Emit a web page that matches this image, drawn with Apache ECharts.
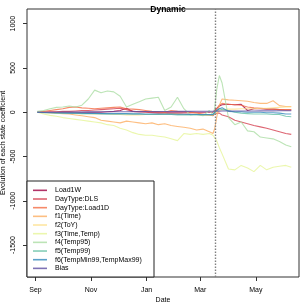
<!DOCTYPE html>
<html>
<head>
<meta charset="utf-8">
<script src="https://cdn.jsdelivr.net/npm/echarts@6/dist/echarts.min.js"></script>
<style>html,body{margin:0;padding:0;background:#fff}#c{width:305px;height:305px}</style>
</head>
<body>
<div id="c"></div>
<script>
var dates = ['2016-09-03','2016-09-10','2016-09-17','2016-09-24','2016-10-01','2016-10-08','2016-10-15','2016-10-22','2016-10-29','2016-11-05','2016-11-12','2016-11-19','2016-11-26','2016-12-03','2016-12-10','2016-12-17','2016-12-24','2016-12-31','2017-01-07','2017-01-14','2017-01-21','2017-01-28','2017-02-04','2017-02-11','2017-02-18','2017-02-25','2017-03-04','2017-03-11','2017-03-15','2017-03-17','2017-03-19','2017-03-22','2017-03-25','2017-04-01','2017-04-08','2017-04-15','2017-04-22','2017-04-29','2017-05-06','2017-05-13','2017-05-20','2017-05-27','2017-06-03','2017-06-09'];

var seriesNames = ['Load1W','DayType:DLS','DayType:Load1D','f1(Time)','f2(ToY)','f3(Time,Temp)','f4(Temp95)','f5(Temp99)','f6(TempMin99,TempMax99)','Bias'];

var load1W    = [0,0,0,0,0,0,0,0,0,0,0,5,10,20,45,10,5,5,0,0,0,0,0,0,0,0,0,0,0,10,40,70,85,90,85,90,20,40,40,35,35,30,25,25];
var dayTypeDLS = [0,0,5,5,10,10,15,20,20,25,30,35,40,45,30,10,5,0,-5,-10,-10,-15,-15,-20,-20,-25,-30,-30,-35,-30,-10,-10,-30,-50,-90,-110,-130,-150,-165,-180,-200,-220,-240,-250];
var dayTypeLoad1D = [0,10,20,30,40,55,60,50,45,40,45,50,55,60,40,35,30,20,10,5,0,20,10,5,0,-10,-20,-30,-40,-20,40,80,100,90,85,80,60,50,45,40,35,30,30,30];
var f1Time    = [0,0,-5,-10,-15,-20,-30,-40,-50,-60,-90,-100,-110,-120,-100,-110,-120,-130,-120,-140,-130,-150,-160,-170,-180,-200,-190,-220,-240,-180,-60,80,150,140,135,130,125,110,100,100,130,75,65,65];
var f2ToY     = [0,-5,-5,-10,-10,-10,-15,-15,-15,-20,-20,-20,-25,-25,-30,-30,-30,-25,-25,-25,-20,-20,-20,-25,-25,-25,-30,-30,-30,-20,0,20,30,35,35,40,40,40,45,45,50,55,60,60];
var f3TimeTemp = [0,-20,-35,-45,-60,-70,-80,-90,-100,-110,-120,-140,-150,-180,-200,-230,-250,-260,-260,-270,-280,-300,-320,-240,-250,-240,-250,-240,-260,-280,-320,-400,-470,-640,-650,-600,-630,-670,-600,-650,-620,-610,-600,-620];
var f4Temp95  = [10,20,40,55,60,70,60,80,150,250,220,240,230,180,60,90,120,150,160,170,20,60,170,40,-30,-20,-40,20,-30,50,250,415,330,-60,-140,-110,-210,-220,-280,-290,-300,-330,-370,-390];
var f5Temp99  = [0,-5,-5,-10,-10,-10,-10,-15,-15,-15,-15,-20,-20,-20,-20,-20,-20,-25,-25,-25,-25,-25,-30,-30,-30,-30,-30,-30,-30,-20,20,40,30,20,0,-10,-15,-20,-20,-20,-25,-25,-45,-50];
var f6Temp    = [0,-2,-5,-5,-8,-10,-10,-10,-12,-12,-15,-15,-15,-15,-15,-18,-18,-20,-20,-20,-20,-20,-22,-22,-25,-25,-25,-25,-25,-10,20,40,50,10,5,5,0,0,0,-5,-5,-10,-20,-20];
var bias      = [0,0,1,1,2,2,3,3,4,4,5,5,5,6,6,7,7,8,8,8,9,9,10,10,10,11,11,12,12,12,13,13,14,14,14,15,15,15,16,16,16,17,17,17];

var allValues = [load1W, dayTypeDLS, dayTypeLoad1D, f1Time, f2ToY, f3TimeTemp, f4Temp95, f5Temp99, f6Temp, bias];

var xTickLabels = ['Sep','Nov','Jan','Mar','May'];
var xTickDates = ['2016-09-01','2016-11-01','2017-01-01','2017-03-01','2017-05-01'];
var yTicks = [-1500,-1000,-500,0,500,1000];
var changeDate = '2017-03-17';

var colors = ['#9E0142','#D53E4F','#F46D43','#FDAE61','#FEE08B','#E6F598','#ABDDA4','#66C2A5','#3288BD','#5E4FA2'];

function ts(s){ return Date.parse(s + 'T00:00:00Z'); }
function rgba(hex, a){
  var r = parseInt(hex.slice(1,3),16), g = parseInt(hex.slice(3,5),16), b = parseInt(hex.slice(5,7),16);
  return 'rgba(' + r + ',' + g + ',' + b + ',' + a + ')';
}
var xTickTs = xTickDates.map(ts);
var FONT = 'Liberation Sans, Arial, Helvetica, sans-serif';

var series = seriesNames.map(function(name, i){
  var s = {
    name: name,
    type: 'line',
    showSymbol: false,
    symbol: 'none',
    animation: false,
    color: rgba(colors[i], 0.8),
    lineStyle: { width: 1.1 },
    data: dates.map(function(d, k){ return [ts(d), allValues[i][k]]; })
  };
  if (i === 0) {
    s.markLine = {
      silent: true, symbol: 'none', animation: false,
      label: { show: false },
      lineStyle: { color: '#808080', type: [1.5, 1.5], width: 1.4 },
      data: [{ xAxis: ts(changeDate) }]
    };
  }
  return s;
});

var chart = echarts.init(document.getElementById('c'), null, { renderer: 'canvas' });
chart.setOption({
  animation: false,
  backgroundColor: '#fff',
  title: {
    text: 'Dynamic', left: 163, top: 0, textAlign: 'center',
    textStyle: { fontFamily: FONT, fontSize: 8.5, fontWeight: 'bold', color: '#000' }
  },
  grid: { left: 27, right: 6, top: 9, bottom: 28, show: true, borderColor: '#333', borderWidth: 1, backgroundColor: 'transparent', containLabel: false, outerBoundsMode: 'none' },
  xAxis: {
    type: 'value',
    min: Date.UTC(2016,7,22,16),
    max: Date.UTC(2017,5,17,12),
    name: 'Date', nameLocation: 'middle', nameGap: 20, nameMoveOverlap: false,
    nameTextStyle: { fontFamily: FONT, fontSize: 7, color: '#000' },
    axisLine: { show: false, onZero: false },
    axisTick: { show: true, customValues: xTickTs, length: 4, inside: false, lineStyle: { color: '#333' } },
    axisLabel: { customValues: xTickTs, fontFamily: FONT, fontSize: 7, color: '#000', margin: 10,
      formatter: function(v){ var i = xTickTs.indexOf(v); return i >= 0 ? xTickLabels[i] : ''; } },
    splitLine: { show: false }
  },
  yAxis: {
    type: 'value', min: -1860, max: 1166,
    name: 'Evolution of each state coefficient', nameLocation: 'middle', nameGap: 20, nameRotate: 90, nameMoveOverlap: false,
    nameTextStyle: { fontFamily: FONT, fontSize: 7, color: '#000' },
    axisLine: { show: false, onZero: false },
    axisTick: { show: true, customValues: yTicks, length: 4, lineStyle: { color: '#333' } },
    axisLabel: { customValues: yTicks, rotate: 90, fontFamily: FONT, fontSize: 7, color: '#000', margin: 10,
      formatter: function(v){ return String(v); } },
    splitLine: { show: false }
  },
  graphic: [{
    type: 'rect', z: 10, silent: true,
    shape: { x: 27, y: 181, width: 127, height: 96 },
    style: { fill: '#fff', stroke: '#222', lineWidth: 1 }
  }],
  legend: {
    z: 20, orient: 'vertical', left: 33, top: 186, padding: 0, itemGap: 0,
    itemWidth: 14, itemHeight: 1.6, icon: 'rect',
    data: seriesNames,
    textStyle: { fontFamily: FONT, fontSize: 7, color: '#000', lineHeight: 8.67, padding: [0,0,0,3] },
    selectedMode: false
  },
  series: series
});
</script>
</body>
</html>
